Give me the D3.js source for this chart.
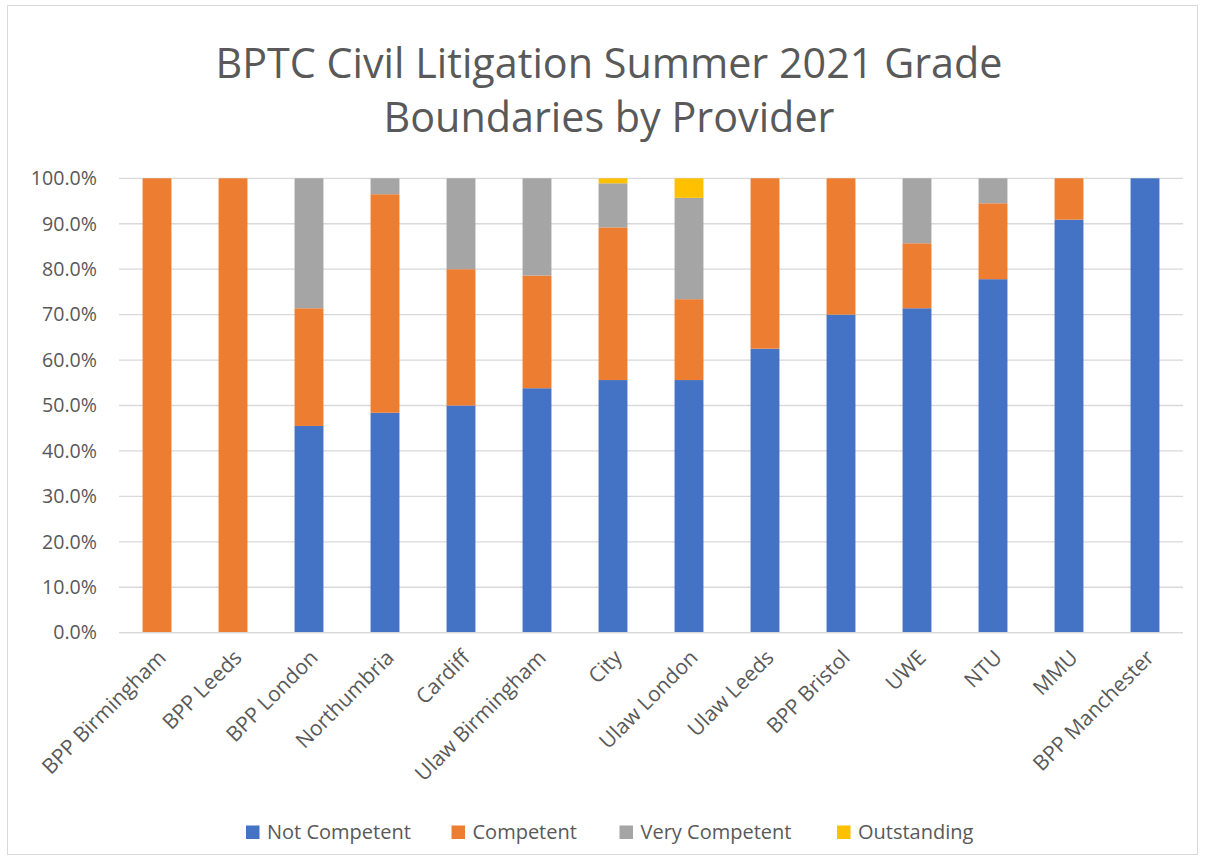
<!DOCTYPE html>
<html>
<head>
<meta charset="utf-8">
<script src="https://cdn.jsdelivr.net/npm/d3@7"></script>
<style>
  html, body { margin: 0; padding: 0; background: #fff; }
  svg { display: block; font-family: "Open Sans", sans-serif; }
</style>
</head>
<body>
<svg id="chart" width="1205" height="861"></svg>
<script>
const providers = ["BPP Birmingham", "BPP Leeds", "BPP London", "Northumbria", "Cardiff",
  "Ulaw Birmingham", "City", "Ulaw London", "Ulaw Leeds", "BPP Bristol", "UWE", "NTU", "MMU", "BPP Manchester"];
const notCompetent  = [0, 0, 45.5, 48.4, 50.0, 53.8, 55.6, 55.6, 62.5, 70.0, 71.4, 77.8, 90.9, 100];
const competent     = [100, 100, 25.9, 48.1, 30.0, 24.8, 33.6, 17.8, 37.5, 30.0, 14.3, 16.7, 9.1, 0];
const veryCompetent = [0, 0, 28.6, 3.5, 20.0, 21.4, 9.7, 22.3, 0, 0, 14.3, 5.5, 0, 0];
const outstanding   = [0, 0, 0, 0, 0, 0, 1.1, 4.3, 0, 0, 0, 0, 0, 0];
const seriesNames = ["Not Competent", "Competent", "Very Competent", "Outstanding"];
const seriesColors = ["#4472C4", "#ED7D31", "#A5A5A5", "#FFC000"];
const yTicks = [0, 10, 20, 30, 40, 50, 60, 70, 80, 90, 100];
const titleLines = ["BPTC Civil Litigation Summer 2021 Grade", "Boundaries by Provider"];

const seriesValues = [notCompetent, competent, veryCompetent, outstanding];
const rows = providers.map((p, i) => {
  const r = { provider: p };
  seriesNames.forEach((s, j) => r[s] = seriesValues[j][i]);
  return r;
});

const svg = d3.select("#chart");
const W = 1205, H = 861;
const m = { left: 119, right: 22, top: 178.3, bottom: 228.3 };
const x0 = m.left, x1 = W - m.right, y0 = H - m.bottom, y1 = m.top;
const textColor = "#595959";

// outer border
svg.append("rect").attr("x", 7.5).attr("y", 5.5).attr("width", 1190).attr("height", 849)
  .attr("fill", "#fff").attr("stroke", "#d9d9d9").attr("stroke-width", 1);

// title
svg.append("text").attr("text-anchor", "middle").attr("fill", textColor)
  .attr("font-size", 41.3).selectAll("tspan").data(titleLines).join("tspan")
  .attr("x", 609).attr("y", (d, i) => 78 + i * 54).text(d => d);

const x = d3.scaleBand().domain(providers).range([x0, x1]).paddingInner(0.62).paddingOuter(0.31);
const y = d3.scaleLinear().domain([0, 100]).range([y0, y1]);

// gridlines
svg.append("g").selectAll("line").data(yTicks).join("line")
  .attr("x1", x0).attr("x2", x1)
  .attr("y1", d => y(d)).attr("y2", d => y(d))
  .attr("stroke", "#d9d9d9").attr("stroke-width", 1.3);

// y axis labels
const yAxis = d3.axisLeft(y).tickValues(yTicks).tickSize(0).tickPadding(22)
  .tickFormat(d => d.toFixed(1) + "%");
const yg = svg.append("g").attr("transform", `translate(${x0},0)`).call(yAxis);
yg.select(".domain").remove();
yg.selectAll("text").attr("fill", textColor).attr("font-size", 19.6)
  .attr("font-family", "'Open Sans', sans-serif");

// stacked bars
const stack = d3.stack().keys(seriesNames);
const stacked = stack(rows);
svg.append("g").selectAll("g").data(stacked).join("g")
  .attr("fill", (d, i) => seriesColors[i])
  .selectAll("rect").data(d => d).join("rect")
  .attr("x", d => x(d.data.provider))
  .attr("width", x.bandwidth())
  .attr("y", d => y(d[1]))
  .attr("height", d => Math.max(0, y(d[0]) - y(d[1])));

// x axis line
svg.append("line").attr("x1", x0).attr("x2", x1).attr("y1", y0).attr("y2", y0)
  .attr("stroke", "#d9d9d9").attr("stroke-width", 1.3);

// x labels
const xAxis = d3.axisBottom(x).tickSize(0).tickPadding(0);
const xg = svg.append("g").attr("transform", `translate(0,${y0})`).call(xAxis);
xg.select(".domain").remove();
xg.selectAll("text")
  .attr("fill", textColor).attr("font-size", 21)
  .attr("font-family", "'Open Sans', sans-serif")
  .attr("text-anchor", "end")
  .attr("dy", "0.35em")
  .attr("transform", "translate(5,21) rotate(-45)");

// legend
const legendX = [246, 451.5, 619.5, 837];
const lg = svg.append("g").selectAll("g").data(seriesNames).join("g")
  .attr("transform", (d, i) => `translate(${legendX[i]},825.5)`);
lg.append("rect").attr("width", 13.5).attr("height", 13.5).attr("fill", (d, i) => seriesColors[i]);
lg.append("text").attr("x", 21).attr("y", 6.75).attr("dy", "0.36em")
  .attr("fill", textColor).attr("font-size", 20).text(d => d);
</script>
</body>
</html>
